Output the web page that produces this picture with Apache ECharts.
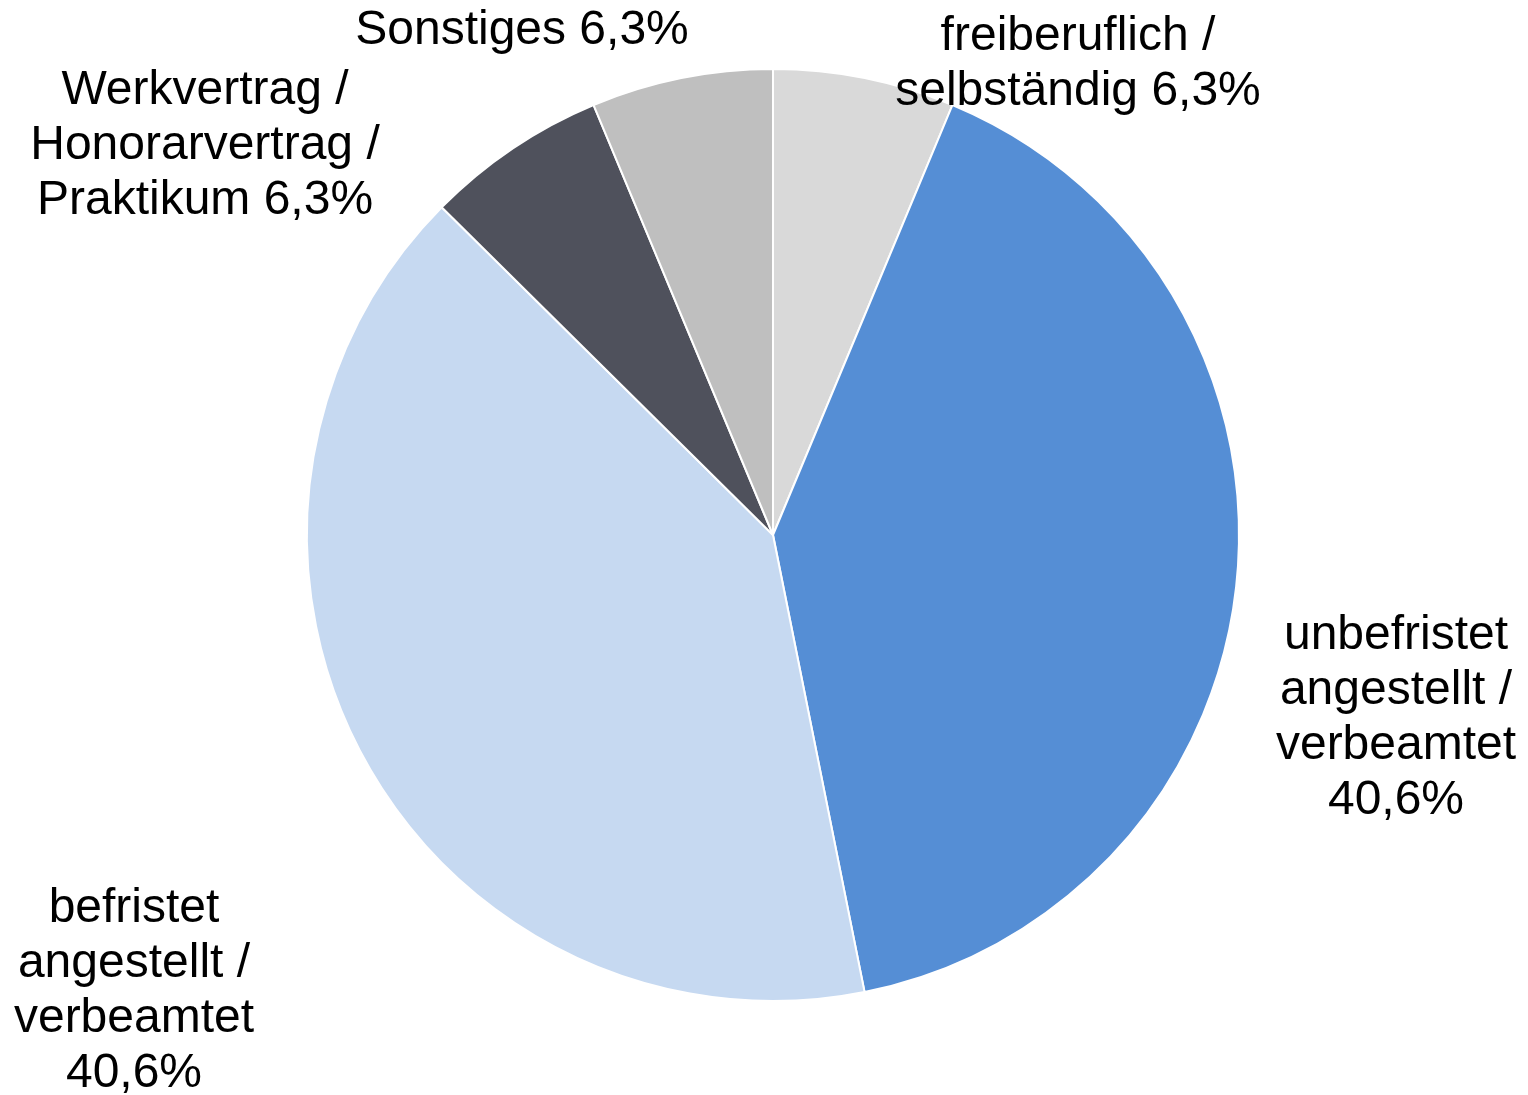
<!DOCTYPE html>
<html>
<head>
<meta charset="utf-8">
<script src="https://cdn.jsdelivr.net/npm/echarts@6/dist/echarts.min.js"></script>
<style>
  html, body { margin: 0; padding: 0; background: #fff; }
  #container { width: 1528px; height: 1095px; }
</style>
</head>
<body>
<div id="container"></div>
<script>
  // Kategorien und Anteile (%)
  var categories = [
    'freiberuflich /\nselbständig',
    'unbefristet\nangestellt /\nverbeamtet',
    'befristet\nangestellt /\nverbeamtet',
    'Werkvertrag /\nHonorarvertrag /\nPraktikum',
    'Sonstiges'
  ];
  var shares = [6.3, 40.6, 40.6, 6.3, 6.3];
  var sliceColors = ['#d9d9d9', '#558ed5', '#c6d9f1', '#4f515c', '#bfbfbf'];
  // value on the same line as the last word of the name?
  var sameLine = [true, false, false, true, true];

  // label anchor points (centre of text block)
  var labelPos = [[1078, 64], [1396, 718], [134, 991], [205, 146], [522, 31]];

  var chart = echarts.init(document.getElementById('container'));

  var seriesData = categories.map(function (c, i) {
    return { name: c, value: shares[i], itemStyle: { color: sliceColors[i] } };
  });

  var option = {
    animation: false,
    series: [{
      type: 'pie',
      center: [773, 535],
      radius: [0, 466],
      startAngle: 90,
      clockwise: true,
      data: seriesData,
      itemStyle: { borderColor: '#fff', borderWidth: 2 },
      label: {
        show: true,
        position: 'outside',
        fontFamily: 'Liberation Sans, Arial, sans-serif',
        fontSize: 48,
        lineHeight: 55,
        color: '#000',
        align: 'center',
        overflow: 'none',
        formatter: function (p) {
          var v = p.value.toFixed(1).replace('.', ',') + '%';
          return p.name + (sameLine[p.dataIndex] ? ' ' : '\n') + v;
        }
      },
      labelLine: { show: false },
      labelLayout: function (params) {
        var pos = labelPos[params.dataIndex];
        return { x: pos[0], y: pos[1], align: 'center', verticalAlign: 'middle' };
      },
      emphasis: { disabled: true }
    }]
  };

  chart.setOption(option);
</script>
</body>
</html>
